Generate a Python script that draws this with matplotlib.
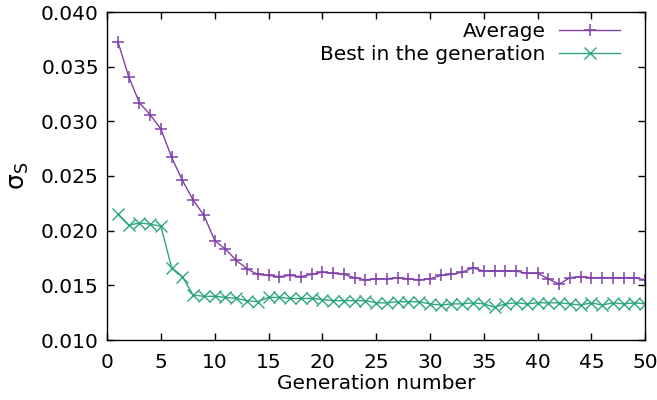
import matplotlib
matplotlib.use("Agg")
import matplotlib.pyplot as plt

# generation index and the two sigma_S series
generation = list(range(1, 51))
average = [0.0373, 0.0341, 0.0317, 0.0306, 0.0293, 0.0267, 0.0246, 0.0228, 0.0214, 0.0191,
           0.0183, 0.0173, 0.0165, 0.0160, 0.0159, 0.0158, 0.0159, 0.0158, 0.0160, 0.0162,
           0.0161, 0.0160, 0.0157, 0.0155, 0.0156, 0.0156, 0.0157, 0.0156, 0.0155, 0.0156,
           0.0159, 0.0160, 0.0162, 0.0166, 0.0163, 0.0163, 0.0163, 0.0163, 0.0161, 0.0161,
           0.0156, 0.0151, 0.0157, 0.0158, 0.0157, 0.0157, 0.0157, 0.0157, 0.0157, 0.0155]
best = [0.0215, 0.0205, 0.0207, 0.0206, 0.0204, 0.0166, 0.0158, 0.0141, 0.0140, 0.0140,
        0.0139, 0.0138, 0.0136, 0.0135, 0.0139, 0.0139, 0.0138, 0.0138, 0.0138, 0.0137,
        0.0136, 0.0136, 0.0136, 0.0136, 0.0134, 0.0134, 0.0135, 0.0135, 0.0135, 0.0133,
        0.0132, 0.0133, 0.0133, 0.0134, 0.0133, 0.0130, 0.0133, 0.0134, 0.0133, 0.0134,
        0.0134, 0.0134, 0.0133, 0.0132, 0.0134, 0.0132, 0.0134, 0.0133, 0.0134, 0.0133]

xticks = [0, 5, 10, 15, 20, 25, 30, 35, 40, 45, 50]
yticks = [0.010, 0.015, 0.020, 0.025, 0.030, 0.035, 0.040]

plt.rcParams['font.family'] = ['DejaVu Sans']
plt.rcParams['font.size'] = 14.5

fig = plt.figure(figsize=(6.57, 4.0), dpi=100)
ax = fig.add_axes([0.163, 0.15, 0.819, 0.82])

ax.plot(generation, average, color='#8040a8', lw=1.0, marker='+', ms=9, mew=1.1,
        label='Average')
ax.plot(generation, best, color='#2ea67c', lw=1.0, marker='x', ms=8, mew=1.0,
        label='Best in the generation')

ax.set_xlim(0, 50)
ax.set_ylim(0.010, 0.040)
ax.set_xticks(xticks)
ax.set_yticks(yticks)
ax.set_yticklabels(['%.3f' % v for v in yticks])
ax.tick_params(direction='in', length=5, width=1, top=True, right=True, pad=6)
ax.tick_params(axis='x', pad=9)
for s in ax.spines.values():
    s.set_linewidth(1.0)

ax.set_xlabel('Generation number', labelpad=2)
ax.set_ylabel(r'$\mathregular{σ_S}$', labelpad=7, fontsize=18)

ax.legend(loc='upper right', bbox_to_anchor=(0.953, 0.97), frameon=False,
          markerfirst=False, handlelength=3.0, handletextpad=0.7, borderpad=0,
          borderaxespad=0, labelspacing=0.2)

fig.savefig('out.png', dpi=100)
